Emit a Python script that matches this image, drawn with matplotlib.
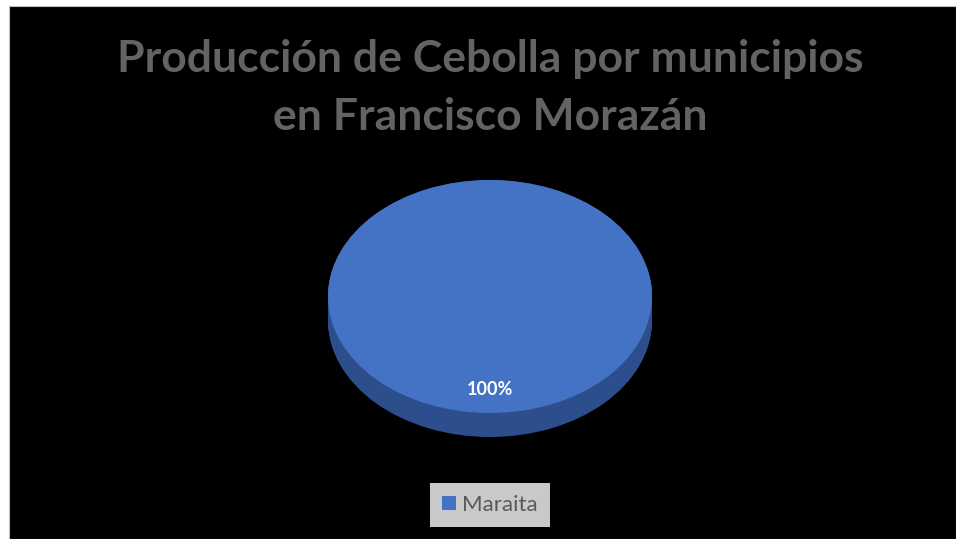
import numpy as np
import matplotlib
matplotlib.use("Agg")
import matplotlib.pyplot as plt
from matplotlib.patches import Rectangle

# data
municipios = ["Maraita"]
produccion = [100]

title = "Producción de Cebolla por municipios\nen Francisco Morazán"
top_color = "#4472C4"
side_color = "#2C4E8C"

W, H = 956, 539
fig = plt.figure(figsize=(W / 100, H / 100), dpi=100, facecolor="white")
plt.rcParams["font.family"] = ["Lato", "DejaVu Sans"]

# black chart area inside a thin white margin
fig.patches.append(Rectangle((9 / W, 0), 1 - 9 / W, 1 - 6 / H,
                             transform=fig.transFigure, facecolor="black",
                             edgecolor="#bfbfbf", linewidth=0.8, zorder=-5))

# pie axes: ellipse top surface + extruded side
depth = 0.206
ax = fig.add_axes([328 / W, (H - 437) / H, 324 / W, 257 / H])
ax.set_facecolor("none")
ax.set_zorder(2)

for off in np.linspace(-depth, 0, 25):
    ax.pie(produccion, colors=[side_color], startangle=90, counterclock=False,
           center=(0, off), wedgeprops=dict(linewidth=0), frame=False)

wedges, texts, autotexts = ax.pie(
    produccion, colors=[top_color], startangle=90, counterclock=False,
    autopct="%1.0f%%", pctdistance=0.8, wedgeprops=dict(linewidth=0),
    textprops=dict(color="white", fontsize=13, fontweight="bold"))

ax.set_aspect("auto")
ax.set_xlim(-1, 1)
ax.set_ylim(-1 - depth, 1)
ax.axis("off")

fig.text(490 / W, 1 - 88 / H, title, ha="center", va="center",
         fontsize=32, fontweight="bold", color="#636363", linespacing=1.55)

leg = fig.legend(wedges, municipios, loc="center",
                 bbox_to_anchor=(490 / W, 1 - 505 / H),
                 facecolor="#c9c9c9", edgecolor="none", framealpha=1,
                 fancybox=False, fontsize=16, handlelength=0.6,
                 handleheight=0.6, handletextpad=0.3, borderpad=0.55)
leg.set_zorder(3)
for t in leg.get_texts():
    t.set_color("#595959")

fig.savefig("out.png", dpi=100, facecolor="white")
